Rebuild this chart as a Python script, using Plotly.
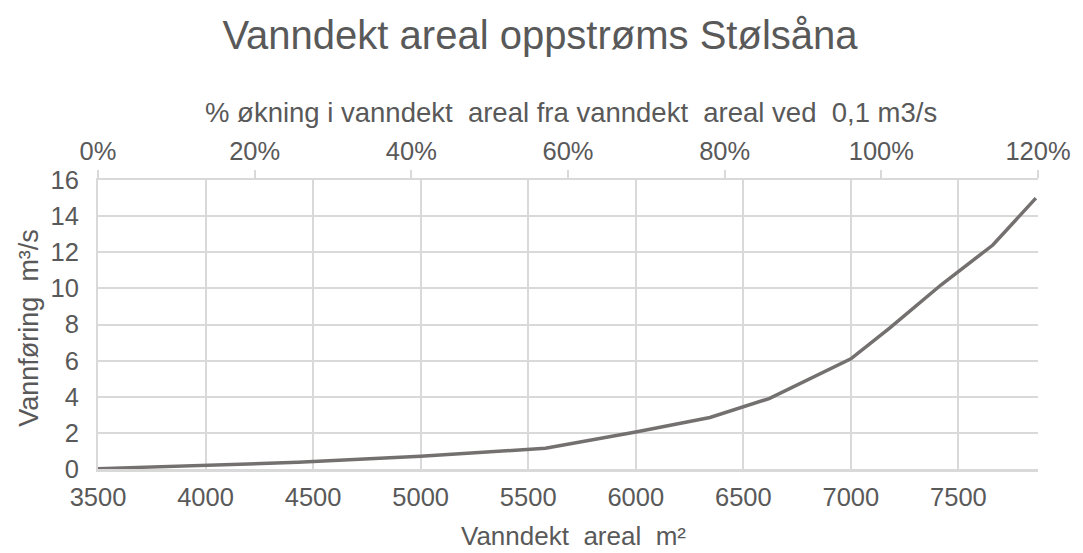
import plotly.graph_objects as go

# Vanndekt areal (m²) mot vannføring (m³/s)
areal = [3500, 4000, 4430, 5000, 5580, 6000, 6345, 6620, 7000, 7180, 7420, 7660, 7860]
vannforing = [0.02, 0.2, 0.37, 0.7, 1.15, 2.05, 2.85, 3.9, 6.1, 7.8, 10.2, 12.4, 15.0]

x_ticks = [3500, 4000, 4500, 5000, 5500, 6000, 6500, 7000, 7500]
y_ticks = [0, 2, 4, 6, 8, 10, 12, 14, 16]
pct_ticks = [0, 0.2, 0.4, 0.6, 0.8, 1.0, 1.2]

FONT = "Liberation Sans, Arial, sans-serif"
TXT = "#595959"
GRID = "#d9d9d9"
TICK_SIZE = 25.5
LABEL_SIZE = 27

fig = go.Figure()
fig.add_trace(go.Scatter(
    x=areal, y=vannforing, mode="lines",
    line=dict(color="#747070", width=3.5),
    showlegend=False, hoverinfo="skip",
))
# secondary top axis in percent
fig.add_trace(go.Scatter(
    x=[pct_ticks[0], pct_ticks[-1]], y=[0, 0], xaxis="x2", mode="lines",
    line=dict(color="rgba(0,0,0,0)"), showlegend=False, hoverinfo="skip",
))

fig.update_layout(
    width=1083, height=553,
    margin=dict(l=98, r=35, t=180, b=84),
    paper_bgcolor="white", plot_bgcolor="white",
    font=dict(family=FONT, color=TXT, size=TICK_SIZE),
    title=dict(
        text="Vanndekt areal oppstrøms Stølsåna",
        x=0.4986, xref="container", xanchor="center",
        y=0.937, yref="container", yanchor="middle",
        font=dict(size=40, color=TXT, family=FONT),
    ),
    xaxis=dict(
        range=[3500, 7870], tickvals=x_ticks,
        showgrid=True, gridcolor=GRID, gridwidth=1.5,
        showline=True, linecolor=GRID, linewidth=2.5,
        zeroline=False, ticks="", ticklabelstandoff=4,
        tickfont=dict(size=TICK_SIZE, color=TXT),
    ),
    xaxis2=dict(
        range=[0, 1.2], tickvals=pct_ticks, tickformat=".0%",
        overlaying="x", side="top", anchor="y",
        showgrid=False, zeroline=False,
        showline=True, linecolor=GRID, linewidth=2,
        ticks="outside", ticklen=8, tickcolor=GRID, tickwidth=2,
        tickfont=dict(size=TICK_SIZE, color=TXT),
    ),
    yaxis=dict(
        range=[0, 16], tickvals=y_ticks,
        showgrid=True, gridcolor=GRID, gridwidth=1.5,
        showline=True, linecolor=GRID, linewidth=2,
        zeroline=False, ticks="",
        ticklabelstandoff=12,
        tickfont=dict(size=TICK_SIZE, color=TXT),
    ),
    annotations=[
        dict(text="% økning i vanndekt \u00a0areal fra vanndekt \u00a0areal ved \u00a00,1 m3/s",
             xref="paper", yref="paper", x=0.5035, y=1.232,
             xanchor="center", yanchor="middle", showarrow=False,
             font=dict(size=27.5, color=TXT)),
        dict(text="Vanndekt \u00a0areal \u00a0m²",
             xref="paper", yref="paper", x=0.506, y=-0.232,
             xanchor="center", yanchor="middle", showarrow=False,
             font=dict(size=26, color=TXT)),
        dict(text="Vannføring \u00a0m³/s",
             xref="paper", yref="paper", x=-0.0737, y=0.488, textangle=-90,
             xanchor="center", yanchor="middle", showarrow=False,
             font=dict(size=LABEL_SIZE, color=TXT)),
    ],
)

fig.write_html("out.html")
